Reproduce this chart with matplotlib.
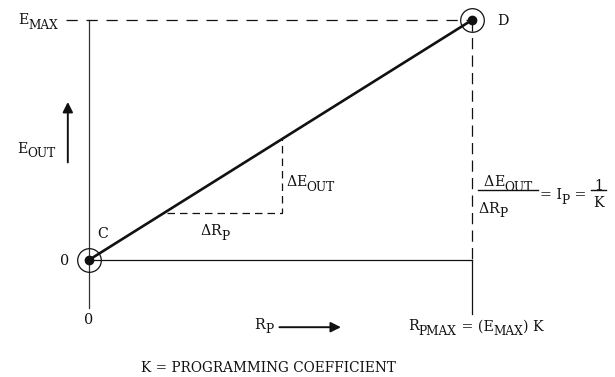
import matplotlib.pyplot as plt

# Programacion de una fuente: E_OUT vs R_P (unidades normalizadas, C=(0,0), D=(R_PMAX, E_MAX))
r_p = [0.0, 1.0]
e_out = [0.0, 1.0]
e_max = 1.0
r_pmax = 1.0
# triangulo de pendiente (ΔR_P, ΔE_OUT)
tri_r = [0.205, 0.505, 0.505]
tri_e = [0.195, 0.195, 0.505]

plt.rcParams['font.family'] = 'DejaVu Serif'

fig = plt.figure(figsize=(6.15, 3.77), dpi=100)
ax = fig.add_axes([0, 0, 1, 1])
ax.set_xlim(-0.232, 1.373)
ax.set_ylim(-0.4875, 1.0833)
ax.set_axis_off()
renderer = fig.canvas.get_renderer()

ink = '#111111'


def seg_text(x, y, parts, ha='left', fs=10.3):
    # parts: (texto, escala, desplazamiento vertical en puntos)
    widths = []
    for s, k, dy in parts:
        t = ax.text(0, 0, s, fontsize=fs * k)
        widths.append(t.get_window_extent(renderer).width)
        t.remove()
    total = sum(widths)
    off = {'left': 0, 'center': -total / 2, 'right': -total}[ha]
    for (s, k, dy), w in zip(parts, widths):
        ax.annotate(s, xy=(x, y), xytext=(off * 72 / fig.dpi, dy), textcoords='offset points',
                    fontsize=fs * k, ha='left', va='center_baseline', color=ink)
        off += w
    return total


def sub(base, s, lo=-3.5):
    return [(base, 1.0, 0), (s, 0.85, lo)]


# ejes
ax.plot([0, 0], [e_max, -0.2], color='#333333', lw=0.9)
ax.plot([0, r_pmax], [0, 0], color=ink, lw=0.9)
ax.plot([r_pmax, r_pmax], [0, -0.225], color=ink, lw=0.9)
# lineas de referencia punteadas
ax.plot([-0.06, r_pmax], [e_max, e_max], color=ink, lw=0.9, dashes=(9, 7))
ax.plot([r_pmax, r_pmax], [e_max, 0], color=ink, lw=0.9, dashes=(9, 5))

# recta C-D
ax.plot(r_p, e_out, color=ink, lw=1.9)
ax.plot(tri_r, tri_e, color=ink, lw=0.9, dashes=(6, 4))

# puntos C y D
ax.plot(r_p, e_out, 'o', ms=17, mfc='none', mec=ink, mew=0.9)
ax.plot(r_p, e_out, 'o', ms=6, color=ink)

seg_text(-0.081, e_max + 0.005, sub('E', 'MAX'), ha='right')
seg_text(1.08, e_max, [('D', 1.0, 0)], ha='center')
seg_text(0.037, 0.115, [('C', 1.0, 0)], ha='center')
seg_text(-0.063, 0, [('0', 1.0, 0)], ha='center')
seg_text(0, -0.245, [('0', 1.0, 0)], ha='center')
seg_text(-0.188, 0.47, sub('E', 'OUT'), ha='left')
ax.annotate('', xy=(-0.055, 0.67), xytext=(-0.055, 0.395),
            arrowprops=dict(arrowstyle='-|>', color=ink, lw=1.4, mutation_scale=15))
seg_text(0.515, 0.33, [('Δ', 1.0, 0), ('E', 1.0, 0), ('OUT', 0.85, -3.5)])
seg_text(0.29, 0.125, [('Δ', 1.0, 0), ('R', 1.0, 0), ('P', 0.85, -3.5)])

# formula de pendiente
fx = 1.094
seg_text(fx, 0.33, [('Δ', 1.0, 0), ('E', 1.0, 0), ('OUT', 0.85, -3.5)], ha='center')
ax.plot([1.016, 1.172], [0.29, 0.29], color=ink, lw=1.0)
seg_text(1.016, 0.22, [('Δ', 1.0, 0), ('R', 1.0, 0), ('P', 0.85, -3.5)], ha='left')
seg_text(1.176, 0.275, [('= I', 1.0, 0), ('P', 0.85, -3.5), (' =', 1.0, 0)], ha='left')
seg_text(1.33, 0.315, [('1', 1.0, 0)], ha='center')
ax.plot([1.31, 1.35], [0.29, 0.29], color=ink, lw=1.0)
seg_text(1.33, 0.245, [('K', 1.0, 0)], ha='center')

seg_text(0.457, -0.265, sub('R', 'P'), ha='center')
ax.annotate('', xy=(0.665, -0.28), xytext=(0.49, -0.28),
            arrowprops=dict(arrowstyle='-|>', color=ink, lw=1.4, mutation_scale=15))
seg_text(0.833, -0.27, [('R', 1.0, 0), ('PMAX', 0.85, -3.5), (' = (E', 1.0, 0), ('MAX', 0.85, -3.5), (') K', 1.0, 0)])
ax.text(0.468, -0.45, 'K = PROGRAMMING COEFFICIENT', fontsize=9.8, ha='center', va='center', color=ink)

plt.savefig('out.png', dpi=100)
